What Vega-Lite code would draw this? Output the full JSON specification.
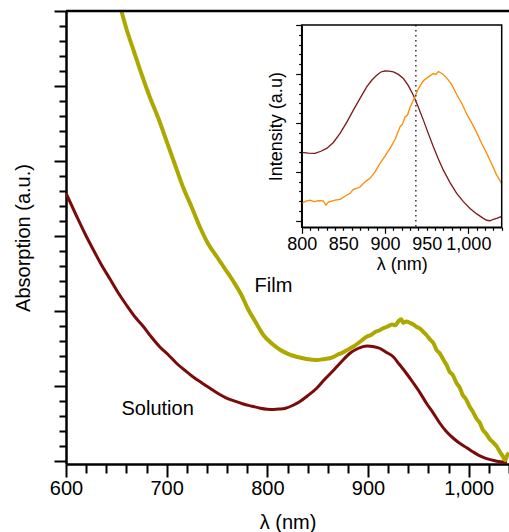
{
  "$schema": "https://vega.github.io/schema/vega-lite/v6.json",
  "width": 443,
  "height": 453,
  "autosize": {"type": "none"},
  "padding": {"left": 66, "top": 11, "right": 0, "bottom": 68},
  "background": "white",
  "config": {
    "view": {"stroke": null},
    "font": "Liberation Sans",
    "axis": {"grid": false, "domainColor": "black", "tickColor": "black", "labelColor": "black", "titleColor": "black", "titleFontWeight": "normal", "labelFont": "Liberation Sans", "titleFont": "Liberation Sans", "labelFlush": false, "labelOverlap": false, "tickCount": 1000}
  },
  "datasets": {
    "main": [
      {"s": "Solution", "lam": 600, "a": 17.85}, {"s": "Solution", "lam": 610, "a": 16.4}, {"s": "Solution", "lam": 620, "a": 15.0}, {"s": "Solution", "lam": 627, "a": 14.1}, {"s": "Solution", "lam": 635, "a": 13.1}, {"s": "Solution", "lam": 644, "a": 12.1}, {"s": "Solution", "lam": 652, "a": 11.2}, {"s": "Solution", "lam": 660, "a": 10.4}, {"s": "Solution", "lam": 668, "a": 9.65}, {"s": "Solution", "lam": 677, "a": 8.95}, {"s": "Solution", "lam": 685, "a": 8.25}, {"s": "Solution", "lam": 693, "a": 7.62}, {"s": "Solution", "lam": 702, "a": 7.05}, {"s": "Solution", "lam": 710, "a": 6.5}, {"s": "Solution", "lam": 718, "a": 6.05}, {"s": "Solution", "lam": 726, "a": 5.62}, {"s": "Solution", "lam": 735, "a": 5.2}, {"s": "Solution", "lam": 743, "a": 4.85}, {"s": "Solution", "lam": 751, "a": 4.5}, {"s": "Solution", "lam": 760, "a": 4.18}, {"s": "Solution", "lam": 768, "a": 3.98}, {"s": "Solution", "lam": 776, "a": 3.8}, {"s": "Solution", "lam": 785, "a": 3.65}, {"s": "Solution", "lam": 793, "a": 3.52}, {"s": "Solution", "lam": 800, "a": 3.45}, {"s": "Solution", "lam": 806, "a": 3.43}, {"s": "Solution", "lam": 812, "a": 3.46}, {"s": "Solution", "lam": 818, "a": 3.52}, {"s": "Solution", "lam": 825, "a": 3.7}, {"s": "Solution", "lam": 832, "a": 3.95}, {"s": "Solution", "lam": 840, "a": 4.35}, {"s": "Solution", "lam": 849, "a": 4.85}, {"s": "Solution", "lam": 857, "a": 5.45}, {"s": "Solution", "lam": 866, "a": 6.07}, {"s": "Solution", "lam": 874, "a": 6.65}, {"s": "Solution", "lam": 882, "a": 7.18}, {"s": "Solution", "lam": 890, "a": 7.5}, {"s": "Solution", "lam": 899, "a": 7.67}, {"s": "Solution", "lam": 906, "a": 7.62}, {"s": "Solution", "lam": 912, "a": 7.5}, {"s": "Solution", "lam": 918, "a": 7.25}, {"s": "Solution", "lam": 925, "a": 6.95}, {"s": "Solution", "lam": 931, "a": 6.45}, {"s": "Solution", "lam": 938, "a": 5.85}, {"s": "Solution", "lam": 945, "a": 5.2}, {"s": "Solution", "lam": 952, "a": 4.51}, {"s": "Solution", "lam": 958, "a": 3.85}, {"s": "Solution", "lam": 965, "a": 3.18}, {"s": "Solution", "lam": 971, "a": 2.55}, {"s": "Solution", "lam": 978, "a": 1.95}, {"s": "Solution", "lam": 985, "a": 1.5}, {"s": "Solution", "lam": 991, "a": 1.18}, {"s": "Solution", "lam": 998, "a": 0.88}, {"s": "Solution", "lam": 1004, "a": 0.62}, {"s": "Solution", "lam": 1010, "a": 0.38}, {"s": "Solution", "lam": 1017, "a": 0.18}, {"s": "Solution", "lam": 1024, "a": 0.05}, {"s": "Solution", "lam": 1031, "a": -0.05}, {"s": "Solution", "lam": 1038, "a": -0.1},
      {"s": "Film", "lam": 650, "a": 31.2}, {"s": "Film", "lam": 655, "a": 30.0}, {"s": "Film", "lam": 661, "a": 28.6}, {"s": "Film", "lam": 667, "a": 27.4}, {"s": "Film", "lam": 675, "a": 25.8}, {"s": "Film", "lam": 683, "a": 24.3}, {"s": "Film", "lam": 692, "a": 22.8}, {"s": "Film", "lam": 700, "a": 21.3}, {"s": "Film", "lam": 708, "a": 19.8}, {"s": "Film", "lam": 716, "a": 18.3}, {"s": "Film", "lam": 725, "a": 16.9}, {"s": "Film", "lam": 733, "a": 15.6}, {"s": "Film", "lam": 741, "a": 14.5}, {"s": "Film", "lam": 750, "a": 13.6}, {"s": "Film", "lam": 758, "a": 12.8}, {"s": "Film", "lam": 766, "a": 12.0}, {"s": "Film", "lam": 774, "a": 11.1}, {"s": "Film", "lam": 781, "a": 10.1}, {"s": "Film", "lam": 788, "a": 9.3}, {"s": "Film", "lam": 796, "a": 8.4}, {"s": "Film", "lam": 805, "a": 7.8}, {"s": "Film", "lam": 813, "a": 7.4}, {"s": "Film", "lam": 821, "a": 7.12}, {"s": "Film", "lam": 829, "a": 6.95}, {"s": "Film", "lam": 839, "a": 6.8}, {"s": "Film", "lam": 849, "a": 6.73}, {"s": "Film", "lam": 857, "a": 6.8}, {"s": "Film", "lam": 862, "a": 6.85}, {"s": "Film", "lam": 866, "a": 6.95}, {"s": "Film", "lam": 870, "a": 7.1}, {"s": "Film", "lam": 874, "a": 7.2}, {"s": "Film", "lam": 878, "a": 7.35}, {"s": "Film", "lam": 882, "a": 7.5}, {"s": "Film", "lam": 886, "a": 7.65}, {"s": "Film", "lam": 890, "a": 7.85}, {"s": "Film", "lam": 894, "a": 8.05}, {"s": "Film", "lam": 899, "a": 8.3}, {"s": "Film", "lam": 903, "a": 8.4}, {"s": "Film", "lam": 907, "a": 8.6}, {"s": "Film", "lam": 911, "a": 8.7}, {"s": "Film", "lam": 915, "a": 8.85}, {"s": "Film", "lam": 919, "a": 8.95}, {"s": "Film", "lam": 924, "a": 9.1}, {"s": "Film", "lam": 927, "a": 9.05}, {"s": "Film", "lam": 930, "a": 9.3}, {"s": "Film", "lam": 933, "a": 9.45}, {"s": "Film", "lam": 935, "a": 9.2}, {"s": "Film", "lam": 938, "a": 9.3}, {"s": "Film", "lam": 942, "a": 9.2}, {"s": "Film", "lam": 945, "a": 9.1}, {"s": "Film", "lam": 948, "a": 8.95}, {"s": "Film", "lam": 952, "a": 8.8}, {"s": "Film", "lam": 955, "a": 8.6}, {"s": "Film", "lam": 958, "a": 8.4}, {"s": "Film", "lam": 962, "a": 8.07}, {"s": "Film", "lam": 965, "a": 7.85}, {"s": "Film", "lam": 968, "a": 7.4}, {"s": "Film", "lam": 971, "a": 7.2}, {"s": "Film", "lam": 975, "a": 6.73}, {"s": "Film", "lam": 978, "a": 6.4}, {"s": "Film", "lam": 981, "a": 5.95}, {"s": "Film", "lam": 984, "a": 5.75}, {"s": "Film", "lam": 988, "a": 5.18}, {"s": "Film", "lam": 991, "a": 4.9}, {"s": "Film", "lam": 994, "a": 4.4}, {"s": "Film", "lam": 997, "a": 4.15}, {"s": "Film", "lam": 1001, "a": 3.62}, {"s": "Film", "lam": 1004, "a": 3.3}, {"s": "Film", "lam": 1008, "a": 2.8}, {"s": "Film", "lam": 1011, "a": 2.55}, {"s": "Film", "lam": 1014, "a": 2.07}, {"s": "Film", "lam": 1017, "a": 1.85}, {"s": "Film", "lam": 1021, "a": 1.45}, {"s": "Film", "lam": 1024, "a": 1.25}, {"s": "Film", "lam": 1028, "a": 0.95}, {"s": "Film", "lam": 1031, "a": 0.6}, {"s": "Film", "lam": 1034, "a": 0.3}, {"s": "Film", "lam": 1036, "a": 0.05}, {"s": "Film", "lam": 1038, "a": 0.35}, {"s": "Film", "lam": 1040, "a": 0.55}
    ],
    "inset": [
      {"s": "A", "lam": 800, "i": 6.98}, {"s": "A", "lam": 808, "i": 6.9}, {"s": "A", "lam": 816, "i": 6.88}, {"s": "A", "lam": 823, "i": 7.1}, {"s": "A", "lam": 830, "i": 7.39}, {"s": "A", "lam": 838, "i": 8.0}, {"s": "A", "lam": 846, "i": 8.92}, {"s": "A", "lam": 854, "i": 10.05}, {"s": "A", "lam": 862, "i": 11.3}, {"s": "A", "lam": 870, "i": 12.5}, {"s": "A", "lam": 878, "i": 13.67}, {"s": "A", "lam": 884, "i": 14.35}, {"s": "A", "lam": 890, "i": 14.87}, {"s": "A", "lam": 895, "i": 15.2}, {"s": "A", "lam": 900, "i": 15.3}, {"s": "A", "lam": 905, "i": 15.28}, {"s": "A", "lam": 910, "i": 15.2}, {"s": "A", "lam": 916, "i": 14.95}, {"s": "A", "lam": 922, "i": 14.53}, {"s": "A", "lam": 928, "i": 13.8}, {"s": "A", "lam": 934, "i": 12.83}, {"s": "A", "lam": 940, "i": 11.6}, {"s": "A", "lam": 946, "i": 10.28}, {"s": "A", "lam": 952, "i": 8.9}, {"s": "A", "lam": 958, "i": 7.55}, {"s": "A", "lam": 964, "i": 6.3}, {"s": "A", "lam": 970, "i": 5.17}, {"s": "A", "lam": 978, "i": 3.9}, {"s": "A", "lam": 986, "i": 2.8}, {"s": "A", "lam": 994, "i": 1.95}, {"s": "A", "lam": 1002, "i": 1.26}, {"s": "A", "lam": 1010, "i": 0.7}, {"s": "A", "lam": 1018, "i": 0.24}, {"s": "A", "lam": 1022, "i": 0.05}, {"s": "A", "lam": 1026, "i": 0.0}, {"s": "A", "lam": 1030, "i": 0.15}, {"s": "A", "lam": 1034, "i": 0.24}, {"s": "A", "lam": 1040, "i": 0.45},
      {"s": "B", "lam": 800, "i": 1.78}, {"s": "B", "lam": 805, "i": 2.0}, {"s": "B", "lam": 810, "i": 2.1}, {"s": "B", "lam": 815, "i": 1.95}, {"s": "B", "lam": 820, "i": 2.05}, {"s": "B", "lam": 826, "i": 2.04}, {"s": "B", "lam": 829, "i": 1.6}, {"s": "B", "lam": 832, "i": 1.9}, {"s": "B", "lam": 836, "i": 2.0}, {"s": "B", "lam": 840, "i": 2.1}, {"s": "B", "lam": 846, "i": 2.18}, {"s": "B", "lam": 852, "i": 2.5}, {"s": "B", "lam": 858, "i": 2.8}, {"s": "B", "lam": 862, "i": 3.2}, {"s": "B", "lam": 866, "i": 3.3}, {"s": "B", "lam": 870, "i": 3.45}, {"s": "B", "lam": 874, "i": 3.8}, {"s": "B", "lam": 878, "i": 4.1}, {"s": "B", "lam": 882, "i": 4.33}, {"s": "B", "lam": 888, "i": 5.0}, {"s": "B", "lam": 894, "i": 5.86}, {"s": "B", "lam": 900, "i": 6.6}, {"s": "B", "lam": 906, "i": 7.39}, {"s": "B", "lam": 912, "i": 8.3}, {"s": "B", "lam": 918, "i": 9.6}, {"s": "B", "lam": 921, "i": 9.9}, {"s": "B", "lam": 924, "i": 10.6}, {"s": "B", "lam": 927, "i": 10.8}, {"s": "B", "lam": 930, "i": 11.6}, {"s": "B", "lam": 935, "i": 12.5}, {"s": "B", "lam": 940, "i": 13.5}, {"s": "B", "lam": 946, "i": 14.3}, {"s": "B", "lam": 952, "i": 14.7}, {"s": "B", "lam": 958, "i": 15.04}, {"s": "B", "lam": 961, "i": 14.95}, {"s": "B", "lam": 964, "i": 15.25}, {"s": "B", "lam": 969, "i": 15.0}, {"s": "B", "lam": 974, "i": 14.6}, {"s": "B", "lam": 980, "i": 13.9}, {"s": "B", "lam": 986, "i": 12.9}, {"s": "B", "lam": 992, "i": 12.0}, {"s": "B", "lam": 998, "i": 10.9}, {"s": "B", "lam": 1004, "i": 10.0}, {"s": "B", "lam": 1010, "i": 9.0}, {"s": "B", "lam": 1016, "i": 7.9}, {"s": "B", "lam": 1022, "i": 6.9}, {"s": "B", "lam": 1028, "i": 5.8}, {"s": "B", "lam": 1034, "i": 4.66}, {"s": "B", "lam": 1040, "i": 3.8}
    ]
  },
  "layer": [
    {
      "layer": [
        {
          "data": {"name": "main"},
          "mark": {"type": "line", "clip": true, "interpolate": "monotone"},
          "encoding": {
            "x": {"field": "lam", "type": "quantitative",
              "scale": {"domain": [600, 1040], "nice": false, "zero": false},
              "axis": {"values": [600,620,640,660,680,700,720,740,760,780,800,820,840,860,880,900,920,940,960,980,1000,1020,1040],
                "tickCount": 1000,
                "labelExpr": "datum.value % 100 === 0 ? format(datum.value, ',') : ''",
                "tickSize": {"condition": {"test": "datum.value % 100 === 0", "value": 13}, "value": 9},
                "tickWidth": 2, "domainWidth": 2.5, "labelFontSize": 20, "labelPadding": 1,
                "title": "λ (nm)", "titleFontSize": 20, "titlePadding": 14}},
            "y": {"field": "a", "type": "quantitative",
              "scale": {"domain": [-0.2, 30], "nice": false, "zero": false},
              "axis": {"values": [0,1,2,3,4,5,6,7,8,9,10,11,12,13,14,15,16,17,18,19,20,21,22,23,24,25,26,27,28,29,30],
                "tickCount": 1000,
                "labels": false,
                "tickSize": {"condition": {"test": "datum.value % 5 === 0", "value": 12}, "value": 7},
                "tickWidth": 2, "domainWidth": 2.5,
                "title": "Absorption (a.u.)", "titleFontSize": 20, "titlePadding": 20}},
            "color": {"field": "s", "type": "nominal", "scale": {"domain": ["Film", "Solution"], "range": ["#ADA800", "#7C0A0A"]}, "legend": null},
            "strokeWidth": {"field": "s", "type": "nominal", "scale": {"domain": ["Film", "Solution"], "range": [4, 3]}, "legend": null}
          }
        },
        {
          "data": {"values": [{}]},
          "mark": {"type": "rule", "strokeWidth": 2.5, "color": "black"},
          "encoding": {"y": {"datum": 30}}
        },
        {
          "data": {"values": [{"label": "Film"}]},
          "mark": {"type": "text", "fontSize": 20, "font": "Liberation Sans", "color": "black"},
          "encoding": {"x": {"datum": 806}, "y": {"datum": 11.7}, "text": {"field": "label"}}
        },
        {
          "data": {"values": [{"label": "Solution"}]},
          "mark": {"type": "text", "fontSize": 20, "font": "Liberation Sans", "color": "black"},
          "encoding": {"x": {"datum": 691}, "y": {"datum": 3.5}, "text": {"field": "label"}}
        }
      ]
    },
    {
      "layer": [
        {
          "data": {"name": "inset"},
          "mark": {"type": "line", "strokeWidth": 1.3},
          "encoding": {
            "x": {"field": "lam", "type": "quantitative",
              "scale": {"domain": [800, 1040], "range": [235.7, 435.7], "nice": false, "zero": false},
              "axis": {"orient": "bottom", "offset": -236.7,
                "values": [800,810,820,830,840,850,860,870,880,890,900,910,920,930,940,950,960,970,980,990,1000,1010,1020,1030,1040],
                "tickCount": 1000,
                "labelExpr": "datum.value % 50 === 0 ? format(datum.value, ',') : ''",
                "tickSize": {"condition": {"test": "datum.value % 100 === 0", "value": 6}, "value": 3},
                "labelPadding": {"condition": {"test": "datum.value % 100 === 0", "value": 2}, "value": 5},
                "tickWidth": 1.2, "domainWidth": 1.5, "labelFontSize": 18,
                "title": "λ (nm)", "titleFontSize": 18, "titlePadding": 2}},
            "y": {"field": "i", "type": "quantitative",
              "scale": {"domain": [-0.67, 20], "range": [216.3, 14], "nice": false, "zero": false},
              "axis": {"orient": "left", "offset": -235.7,
                "values": [0,1,2,3,4,5,6,7,8,9,10,11,12,13,14,15,16,17,18,19,20],
                "tickCount": 1000,
                "labels": false,
                "tickSize": {"condition": {"test": "datum.value % 5 === 0", "value": 6}, "value": 3},
                "tickWidth": 1.2, "domainWidth": 1.5,
                "title": "Intensity (a.u)", "titleFontSize": 18, "titlePadding": 10}},
            "color": {"field": "s", "type": "nominal", "scale": {"domain": ["A", "B"], "range": ["#7A1A1A", "#FF8A00"]}, "legend": null}
          }
        },
        {
          "data": {"values": [{}]},
          "mark": {"type": "rule", "strokeDash": [1.5, 3.5], "color": "#333333", "strokeWidth": 1.5},
          "encoding": {"x": {"datum": 937}, "y": {"datum": 20}, "y2": {"datum": -0.67}}
        },
        {
          "data": {"values": [{}]},
          "mark": {"type": "rect", "filled": false, "color": "black", "strokeWidth": 1.5},
          "encoding": {"x": {"datum": 800}, "x2": {"datum": 1040}, "y": {"datum": -0.67}, "y2": {"datum": 20}}
        }
      ]
    }
  ],
  "resolve": {
    "scale": {"x": "independent", "y": "independent", "color": "independent", "strokeWidth": "independent"},
    "axis": {"x": "independent", "y": "independent"}
  }
}
